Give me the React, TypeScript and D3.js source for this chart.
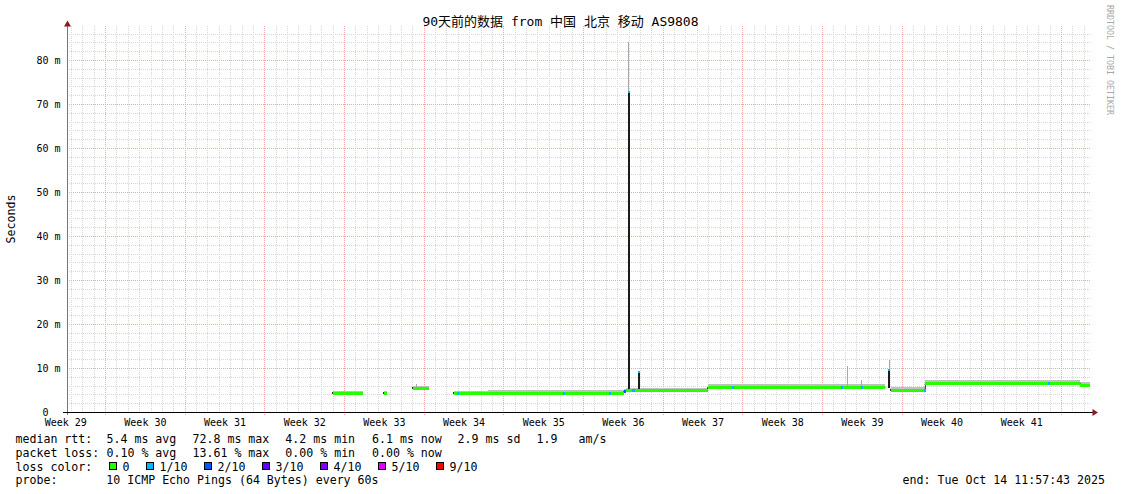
import React from 'react';
import * as d3 from 'd3';

// ---------- data ----------
const TOTAL_DAYS = 90; // 90 days ending Tue Oct 14 11:57:43 2025
const FIRST_WEEK_LINE = 3.34; // day offset of the first week boundary
const Y_MAX_MS = 87.73;

const weekLabels = [
  'Week 29', 'Week 30', 'Week 31', 'Week 32', 'Week 33', 'Week 34', 'Week 35',
  'Week 36', 'Week 37', 'Week 38', 'Week 39', 'Week 40', 'Week 41',
];
const yTicksMs = [0, 10, 20, 30, 40, 50, 60, 70, 80];
const yTickLabels = ['0', '10 m', '20 m', '30 m', '40 m', '50 m', '60 m', '70 m', '80 m'];

// [day offset, median rtt ms (null = no data), smoke max ms]
const rttSteps: [number, number | null, number | null][] = [
  [23.36, 4.1, 4.7],
  [25.99, null, null],
  [27.83, 4.2, 4.7],
  [28.1, null, null],
  [30.38, 5.35, 5.9],
  [31.79, null, null],
  [33.98, 4.25, 4.7],
  [36.97, 4.3, 4.85],
  [40.5, 4.25, 4.8],
  [43.0, 4.3, 4.85],
  [46.0, 4.25, 4.8],
  [48.91, 4.7, 5.1],
  [49.08, 4.85, 5.45],
  [53.0, 4.8, 5.4],
  [56.28, 5.5, 6.2],
  [60.0, 5.55, 6.25],
  [64.0, 5.5, 6.2],
  [68.0, 5.55, 6.25],
  [71.91, null, null],
  [72.44, 4.85, 5.5],
  [75.42, 6.5, 7.2],
  [80.0, 6.5, 7.1],
  [84.5, 6.5, 7.2],
  [89.03, 6.05, 6.7],
  [89.85, null, null],
];

// [day start, day end, base ms, median ms, smoke max ms, loss level]
const spikes: [number, number, number, number, number, number][] = [
  [30.6, 30.75, 5.35, 5.35, 6.4, 0],
  [49.25, 49.43, 4.85, 72.8, 84.0, 1],
  [50.13, 50.31, 4.85, 9.2, 9.3, 1],
  [68.49, 68.66, 5.6, 5.6, 10.4, 0],
  [69.75, 69.9, 5.6, 5.6, 7.2, 0],
  [72.1, 72.35, 5.4, 9.5, 11.8, 1],
];

// [day start, day end, loss level]
const lossMarks: [number, number, number][] = [
  [34.3, 34.45, 1],
  [43.6, 43.75, 1],
  [47.65, 47.8, 1],
  [48.91, 49.08, 2],
  [49.6, 49.87, 1],
  [58.45, 58.6, 1],
  [68.0, 68.15, 1],
  [69.75, 69.9, 1],
  [75.33, 75.45, 1],
  [86.2, 86.35, 1],
];

const lossLevels = ['0', '1/10', '2/10', '3/10', '4/10', '5/10', '9/10'];
const lossColors = ['#26ff00', '#00b8ff', '#0059ff', '#5e00ff', '#7e00ff', '#dd00ff', '#ff0000'];

const rttStats = ['5.4 ms avg', '72.8 ms max', '4.2 ms min', '6.1 ms now', '2.9 ms sd', '1.9', 'am/s'];
const lossStats = ['0.10 % avg', '13.61 % max', '0.00 % min', '0.00 % now'];

const titleText = '90天前的数据 from 中国 北京 移动 AS9808';
const probeText = '10 ICMP Echo Pings (64 Bytes) every 60s';
const endText = 'end: Tue Oct 14 11:57:43 2025';
const watermark = 'RRDTOOL / TOBI OETIKER';

// ---------- drawing ----------
const W = 1121;
const H = 494;
const FONT = "'DejaVu Sans Mono', 'Noto Sans CJK SC', monospace";
const statX = [106.5, 192.5, 285.3, 372, 457.6, 536.6, 578.5];

export default function App() {
  const x = d3.scaleLinear().domain([0, TOTAL_DAYS]).range([67, 1091.3]);
  const y = d3.scaleLinear().domain([0, Y_MAX_MS]).range([412, 26]);
  const px = (v: number) => Math.round(v) + 0.5;
  const top = y(Y_MAX_MS);
  const bottom = y(0);
  const left = x(0);
  const right = x(TOTAL_DAYS);

  const weekDays = weekLabels.map((_, k) => FIRST_WEEK_LINE + 7 * k);
  const dayOffset = FIRST_WEEK_LINE % 1;
  const isWeek = (d: number) => {
    const m = ((((d - FIRST_WEEK_LINE) % 7) + 7) % 7);
    return m < 0.01 || 7 - m < 0.01;
  };
  const minorDays = d3
    .range(0, TOTAL_DAYS)
    .map((k) => dayOffset + k)
    .filter((d) => d < TOTAL_DAYS && !isWeek(d));
  const minorMs = d3.range(2, Y_MAX_MS, 2).filter((v) => v % 10 !== 0);

  const steps: { d0: number; d1: number; med: number; hi: number; start: boolean }[] = [];
  for (let i = 0; i < rttSteps.length - 1; i++) {
    const [d0, med, hi] = rttSteps[i];
    if (med === null || hi === null) continue;
    const prev = i > 0 ? rttSteps[i - 1][1] : null;
    steps.push({ d0, d1: rttSteps[i + 1][0], med, hi, start: prev === null });
  }
  const medianAt = (d: number) => {
    const s = steps.find((st) => d >= st.d0 - 1e-6 && d < st.d1);
    return s ? s.med : 0;
  };
  const row = (v: number) => Math.floor(y(v));

  const runs: [number, number][][] = [];
  let cur: [number, number][] = [];
  steps.forEach((s, i) => {
    if (s.start && cur.length) {
      runs.push(cur);
      cur = [];
    }
    cur.push([s.d0, s.med]);
    const next = steps[i + 1];
    if (!next || next.start) cur.push([s.d1, s.med]);
  });
  if (cur.length) runs.push(cur);
  const stepLine = d3
    .line<[number, number]>()
    .x((p) => x(p[0]))
    .y((p) => row(p[1]) + 0.5)
    .curve(d3.curveStepAfter);

  const gridDash = '1 1';

  let lx = 109;
  const legendItems = lossLevels.map((lab, i) => {
    const item = { lab, color: lossColors[i], bx: lx, tx: lx + 13.5 };
    lx = lx + 13.5 + lab.length * 7 + 16.5;
    return item;
  });

  const rowY = [442.7, 456.6, 470.5, 484.2];

  return (
    <div style={{ position: 'absolute', left: 0, top: 0 }}>
      <svg width={W} height={H} style={{ display: 'block', background: '#fff' }} fontFamily={FONT}>
        <rect x={0} y={0} width={W} height={H} fill="#ffffff" />

        {/* minor grid */}
        <g stroke="#d6d6d6" strokeWidth={1} strokeDasharray={gridDash} shapeRendering="crispEdges">
          {minorDays.map((d) => (
            <line key={'vd' + d} x1={px(x(d))} x2={px(x(d))} y1={top} y2={bottom} />
          ))}
          {minorMs.map((v) => (
            <line key={'hm' + v} x1={left} x2={right} y1={px(y(v))} y2={px(y(v))} />
          ))}
        </g>
        {/* major grid */}
        <g stroke="#f4a6a6" strokeWidth={1} strokeDasharray={gridDash} shapeRendering="crispEdges">
          {weekDays.map((d) => (
            <line key={'vw' + d} x1={px(x(d))} x2={px(x(d))} y1={top} y2={bottom + 3} />
          ))}
          {yTicksMs.slice(1).map((v) => (
            <line key={'hM' + v} x1={left} x2={right} y1={px(y(v))} y2={px(y(v))} />
          ))}
        </g>

        {/* smoke */}
        <g shapeRendering="crispEdges">
          {steps.map((s, i) => (
            <rect
              key={'sm' + i}
              x={x(s.d0)}
              width={x(s.d1) - x(s.d0)}
              y={Math.floor(y(s.hi))}
              height={row(s.med) - Math.floor(y(s.hi))}
              fill="#c0c0c0"
            />
          ))}
        </g>
        {/* spikes */}
        <g shapeRendering="crispEdges">
          {spikes.map(([d0, d1, base, med, hi], i) => {
            const cx = (x(d0) + x(d1)) / 2;
            return (
              <rect key={'sl' + i} x={cx - 0.5} width={1.2} y={y(hi)} height={y(base) - y(hi)} fill="#a8a8a8" />
            );
          })}
          {spikes
            .filter((s) => s[3] > s[2])
            .map(([d0, d1, base, med], i) => (
              <rect key={'sd' + i} x={x(d0)} width={x(d1) - x(d0)} y={y(med)} height={y(base) - y(med)} fill="#1c1c1c" />
            ))}
        </g>

        {/* median: dark connecting step line then loss coloured line */}
        {runs.map((r, i) => (
          <path key={'rl' + i} d={stepLine(r) || ''} fill="none" stroke="#333" strokeWidth={1} />
        ))}
        <g shapeRendering="crispEdges">
          {steps.map((s, i) => (
            <rect
              key={'md' + i}
              x={x(s.d0)}
              width={x(s.d1) - x(s.d0)}
              y={row(s.med) - 1}
              height={3}
              fill={lossColors[0]}
            />
          ))}
          {steps
            .filter((s) => s.start)
            .map((s, i) => (
              <rect key={'st' + i} x={x(s.d0) - 1} width={1} y={row(s.med) - 1} height={2} fill="#333" />
            ))}
          {lossMarks.map(([d0, d1, lv], i) => (
            <rect
              key={'lm' + i}
              x={x(d0)}
              width={Math.max(1.5, x(d1) - x(d0))}
              y={row(medianAt(d0)) - 1}
              height={3}
              fill={lossColors[lv]}
            />
          ))}
          {spikes
            .filter((s) => s[3] > s[2])
            .map(([d0, d1, , med, , lv], i) => (
              <rect key={'tp' + i} x={x(d0)} width={x(d1) - x(d0)} y={y(med) - 1} height={2} fill={lossColors[lv]} />
            ))}
        </g>

        {/* axes */}
        <line x1={67.5} x2={67.5} y1={top - 3} y2={bottom + 3} stroke="#777" strokeWidth={1} />
        <path d={`M67.5,20.5 L64,26.5 L71,26.5 Z`} fill="#8f1a1a" />
        <line x1={63} x2={1093} y1={412.5} y2={412.5} stroke="#000" strokeWidth={1} />
        <path d={`M1098,412.5 L1092.5,409 L1092.5,416 Z`} fill="#8f1a1a" />

        {/* y labels */}
        <g fontSize={10} fill="#000" textAnchor="end">
          {yTicksMs.map((v, i) => (
            <text key={'yl' + v} x={yTickLabels[i] === '0' ? 48.5 : 60.5} y={y(v) + 3.8}>
              {yTickLabels[i]}
            </text>
          ))}
        </g>
        {/* x labels */}
        <g fontSize={10} fill="#000" textAnchor="middle">
          {weekLabels.map((lab, k) => (
            <text key={lab} x={x(weekDays[k] - 3.45)} y={425.5}>
              {lab}
            </text>
          ))}
        </g>

        {/* title */}
        <text x={560.5} y={26} fontSize={13} textAnchor="middle" fill="#000">
          {titleText}
        </text>
        {/* y axis title */}
        <text transform="translate(14.5,219) rotate(-90)" fontSize={11.6} textAnchor="middle" fill="#000">
          Seconds
        </text>
        {/* watermark */}
        <text transform="translate(1107,5) rotate(90)" fontSize={8.3} fill="#a8a8a8">
          {watermark}
        </text>

        {/* legend */}
        <g fontSize={11.6} fill="#000" style={{ whiteSpace: 'pre' }}>
          <text x={15.5} y={rowY[0]}>median rtt:</text>
          {rttStats.map((s, i) => (
            <text key={'rs' + i} x={statX[i]} y={rowY[0]}>
              {s}
            </text>
          ))}
          <text x={15.5} y={rowY[1]}>packet loss:</text>
          {lossStats.map((s, i) => (
            <text key={'ls' + i} x={statX[i]} y={rowY[1]}>
              {s}
            </text>
          ))}
          <text x={15.5} y={rowY[2]}>loss color:</text>
          {legendItems.map((it) => (
            <g key={'lg' + it.lab}>
              <rect x={it.bx + 0.5} y={462.5} width={7} height={7} fill={it.color} stroke="#000" strokeWidth={1} />
              <text x={it.tx} y={rowY[2]}>
                {it.lab}
              </text>
            </g>
          ))}
          <text x={15.5} y={rowY[3]}>probe:</text>
          <text x={106.3} y={rowY[3]}>{probeText}</text>
          <text x={1105} y={rowY[3]} textAnchor="end">
            {endText}
          </text>
        </g>
      </svg>
    </div>
  );
}
